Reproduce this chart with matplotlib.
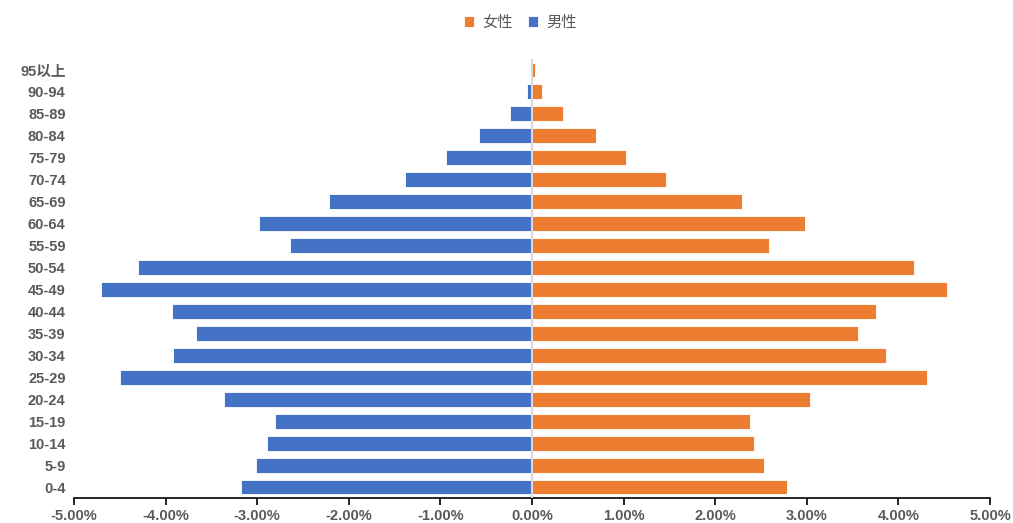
import matplotlib
matplotlib.use("Agg")
import matplotlib.pyplot as plt
from matplotlib.ticker import FuncFormatter, MultipleLocator

age_groups = ["0-4", "5-9", "10-14", "15-19", "20-24", "25-29", "30-34", "35-39",
              "40-44", "45-49", "50-54", "55-59", "60-64", "65-69", "70-74",
              "75-79", "80-84", "85-89", "90-94", "95以上"]
female = [2.78, 2.53, 2.42, 2.38, 3.03, 4.31, 3.86, 3.56, 3.76, 4.53, 4.17,
          2.59, 2.98, 2.29, 1.46, 1.03, 0.70, 0.34, 0.11, 0.03]
male = [-3.18, -3.01, -2.89, -2.81, -3.36, -4.50, -3.92, -3.67, -3.93, -4.71,
        -4.30, -2.64, -2.98, -2.22, -1.39, -0.94, -0.58, -0.24, -0.05, -0.01]
x_ticks = [-5, -4, -3, -2, -1, 0, 1, 2, 3, 4, 5]

plt.rcParams['font.family'] = ['Liberation Sans', 'Noto Sans CJK SC', 'DejaVu Sans']

fig = plt.figure(figsize=(10.13, 5.23), dpi=100)
ax = fig.add_axes([74/1013, 1-498/523, (990-74)/1013, (498-59)/523])

y = list(range(len(age_groups)))
orange = "#ED7D31"
blue = "#4472C4"
ax.barh(y, female, height=0.68, color=orange, edgecolor="white", linewidth=0.6, label="女性", zorder=2)
ax.barh(y, male, height=0.68, color=blue, edgecolor="white", linewidth=0.6, label="男性", zorder=2)

ax.set_xlim(-5, 5)
ax.set_ylim(-0.5, len(age_groups) - 0.5)
ax.axvline(0, color="#d9d9d9", linewidth=1.5, zorder=3)

ax.set_xticks(x_ticks)
ax.xaxis.set_major_formatter(FuncFormatter(lambda v, p: f"{v:.2f}%"))
ax.set_yticks(y)
ax.set_yticklabels(age_groups, family=['Liberation Sans', 'Noto Sans CJK SC'])

for s in ["top", "right", "left"]:
    ax.spines[s].set_visible(False)
ax.spines["bottom"].set_color("#000000")
ax.spines["bottom"].set_linewidth(1.2)
ax.tick_params(axis="x", direction="out", length=5, width=1.2, color="black",
               labelsize=10.5, labelcolor="#595959", pad=3)
ax.tick_params(axis="y", length=0, labelsize=10.5, labelcolor="#595959", pad=6)
for lab in ax.get_xticklabels() + ax.get_yticklabels():
    lab.set_fontweight("bold")

handles, labels = ax.get_legend_handles_labels()
fig.legend(handles, labels, loc="center", bbox_to_anchor=(520/1013, 1-22/523), ncol=2,
           frameon=False, handlelength=0.7, handleheight=0.7, handletextpad=0.5,
           columnspacing=1.0,
           prop={'family': ['Noto Sans CJK SC'], 'size': 11})
for t in fig.legends[0].get_texts():
    t.set_color("#595959")

fig.savefig("out.png", dpi=100)
